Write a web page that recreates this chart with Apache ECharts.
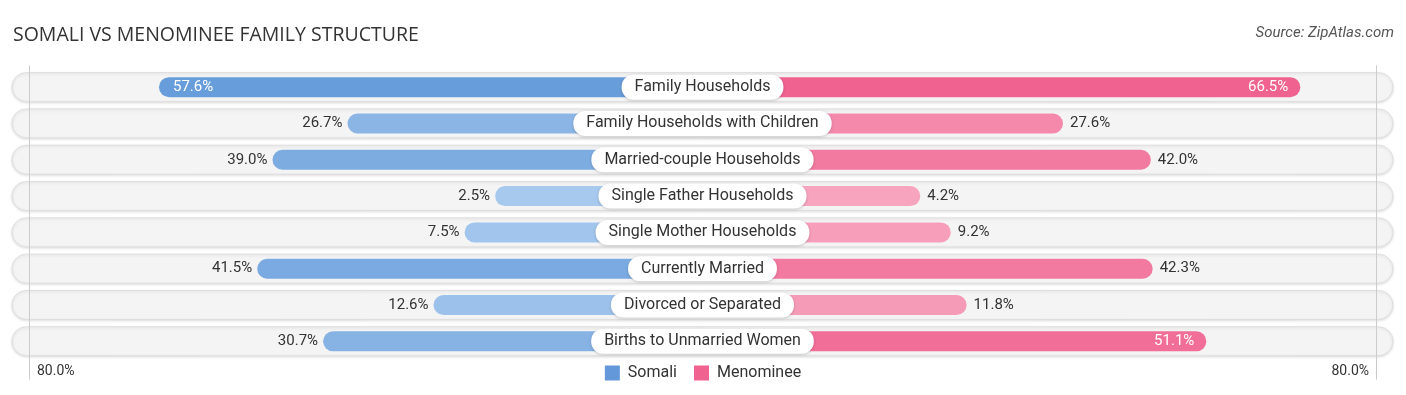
<!DOCTYPE html>
<html>
<head>
<meta charset="utf-8">
<script src="https://cdn.jsdelivr.net/npm/echarts@6/dist/echarts.min.js"></script>
<style>
html,body{margin:0;padding:0;background:#fff;}
#chart{width:1406px;height:395px;}
</style>
</head>
<body>
<div id="chart"></div>
<script>
const categories = [
  "Family Households",
  "Family Households with Children",
  "Married-couple Households",
  "Single Father Households",
  "Single Mother Households",
  "Currently Married",
  "Divorced or Separated",
  "Births to Unmarried Women"
];
const somali = [57.6, 26.7, 39.0, 2.5, 7.5, 41.5, 12.6, 30.7];
const menominee = [66.5, 27.6, 42.0, 4.2, 9.2, 42.3, 11.8, 51.1];
const seriesNames = ["Somali", "Menominee"];
const edgeLabel = "80.0%";

const OFF = 31.5;   // space reserved for the centre label (axis units)
const AX = 113.2;   // axis half-range
const GUIDE = 110.4;

function mix(a, b, t) {
  const pa = [parseInt(a.slice(1,3),16), parseInt(a.slice(3,5),16), parseInt(a.slice(5,7),16)];
  const pb = [parseInt(b.slice(1,3),16), parseInt(b.slice(3,5),16), parseInt(b.slice(5,7),16)];
  const r = pa.map((v,i)=>Math.round(v + (pb[i]-v)*t));
  return 'rgb(' + r.join(',') + ')';
}
function tOf(v){ return Math.min(1, v / 62); }

const blueLight = '#aacbee', blueDark = '#6399da';
const pinkLight = '#f7a9c1', pinkDark = '#f0628f';
const INSIDE = 45;

const leftData = somali.map(v => ({
  value: -(v + OFF),
  itemStyle: { color: mix(blueLight, blueDark, tOf(v)) },
  label: v >= INSIDE ? { position: 'insideLeft', color: '#fff', distance: 14 } : { position: 'left', color: '#333', distance: 5 },
  raw: v
}));
const rightData = menominee.map(v => ({
  value: v + OFF,
  itemStyle: { color: mix(pinkLight, pinkDark, tOf(v)) },
  label: v >= INSIDE ? { position: 'insideRight', color: '#fff', distance: 12 } : { position: 'right', color: '#333', distance: 7 },
  raw: v
}));

const chart = echarts.init(document.getElementById('chart'));
const option = {
  animation: false,
  textStyle: { fontFamily: 'Roboto' },
  grid: { left: 12, right: 13, top: 69, height: 290.5 },
  xAxis: { type: 'value', min: -AX, max: AX, show: false, splitLine: { show: false } },
  yAxis: { type: 'category', data: categories, inverse: true, show: false },
  legend: {
    data: seriesNames,
    left: 'center',
    top: 360,
    itemWidth: 15,
    itemHeight: 15,
    itemGap: 17,
    icon: 'rect',
    textStyle: { fontSize: 16, color: '#333', fontFamily: 'Roboto', padding: [0, 0, 0, 3] }
  },
  graphic: [
    { type: 'text', left: 13, top: 25, style: { text: 'SOMALI VS MENOMINEE FAMILY STRUCTURE', fontSize: 19.5, fill: '#333', fontFamily: 'Open Sans' } },
    { type: 'text', right: 12, top: 26, style: { text: 'Source: ZipAtlas.com', fontSize: 15, fill: '#555', fontStyle: 'italic', fontFamily: 'Roboto' } },
    { type: 'text', left: 37, top: 364, style: { text: edgeLabel, fontSize: 14, fill: '#333', fontFamily: 'Roboto' } },
    { type: 'text', right: 37, top: 364, style: { text: edgeLabel, fontSize: 14, fill: '#333', fontFamily: 'Roboto' } }
  ],
  series: [
    {
      type: 'custom',
      name: 'bg',
      z: 1,
      silent: true,
      data: categories.map((c, i) => [i]),
      encode: { y: 0 },
      renderItem: function (params, api) {
        const i = api.value(0);
        const p0 = api.coord([-AX, i]);
        const p1 = api.coord([AX, i]);
        const h = api.size([0, 1])[1] * 0.8;
        return {
          type: 'rect',
          shape: { x: p0[0], y: p0[1] - h / 2, width: p1[0] - p0[0], height: h, r: h / 2 },
          style: { fill: '#f4f4f4', stroke: '#dedede', lineWidth: 1, shadowBlur: 3, shadowColor: 'rgba(0,0,0,0.12)', shadowOffsetY: 1 }
        };
      }
    },
    {
      type: 'custom',
      name: 'guides',
      z: 2,
      silent: true,
      data: [[-GUIDE], [GUIDE]],
      encode: { x: 0 },
      renderItem: function (params, api) {
        const x = api.value(0);
        const top = api.coord([x, 0]);
        const bot = api.coord([x, categories.length - 1]);
        const band = api.size([0, 1])[1];
        return {
          type: 'line',
          shape: { x1: Math.round(top[0]) + 0.5, y1: top[1] - band * 0.6, x2: Math.round(top[0]) + 0.5, y2: bot[1] + band + 2 },
          style: { stroke: '#cccccc', lineWidth: 1 }
        };
      }
    },
    {
      type: 'bar',
      name: seriesNames[0],
      data: leftData,
      barWidth: 20,
      barGap: '-100%',
      z: 3,
      itemStyle: { color: blueDark, borderRadius: 10 },
      label: {
        show: true,
        fontSize: 15,
        fontFamily: 'Roboto',
        formatter: p => p.data.raw.toFixed(1) + '%'
      }
    },
    {
      type: 'bar',
      name: seriesNames[1],
      data: rightData,
      barWidth: 20,
      barGap: '-100%',
      z: 3,
      itemStyle: { color: pinkDark, borderRadius: 10 },
      label: {
        show: true,
        fontSize: 15,
        fontFamily: 'Roboto',
        formatter: p => p.data.raw.toFixed(1) + '%'
      }
    },
    {
      type: 'custom',
      name: 'labels',
      z: 5,
      silent: true,
      data: categories.map((c, i) => [i]),
      encode: { y: 0 },
      renderItem: function (params, api) {
        const i = api.value(0);
        const p = api.coord([0, i]);
        return {
          type: 'text',
          x: p[0],
          y: p[1],
          style: {
            text: categories[i],
            fontSize: 16,
            fontFamily: 'Roboto',
            fill: '#333',
            align: 'center',
            verticalAlign: 'middle',
            lineHeight: 17,
            backgroundColor: '#ffffff',
            padding: [4, 13],
            borderRadius: 12,
            shadowBlur: 3,
            shadowColor: 'rgba(0,0,0,0.18)',
            shadowOffsetY: 1
          }
        };
      }
    }
  ]
};
chart.setOption(option);
</script>
</body>
</html>
